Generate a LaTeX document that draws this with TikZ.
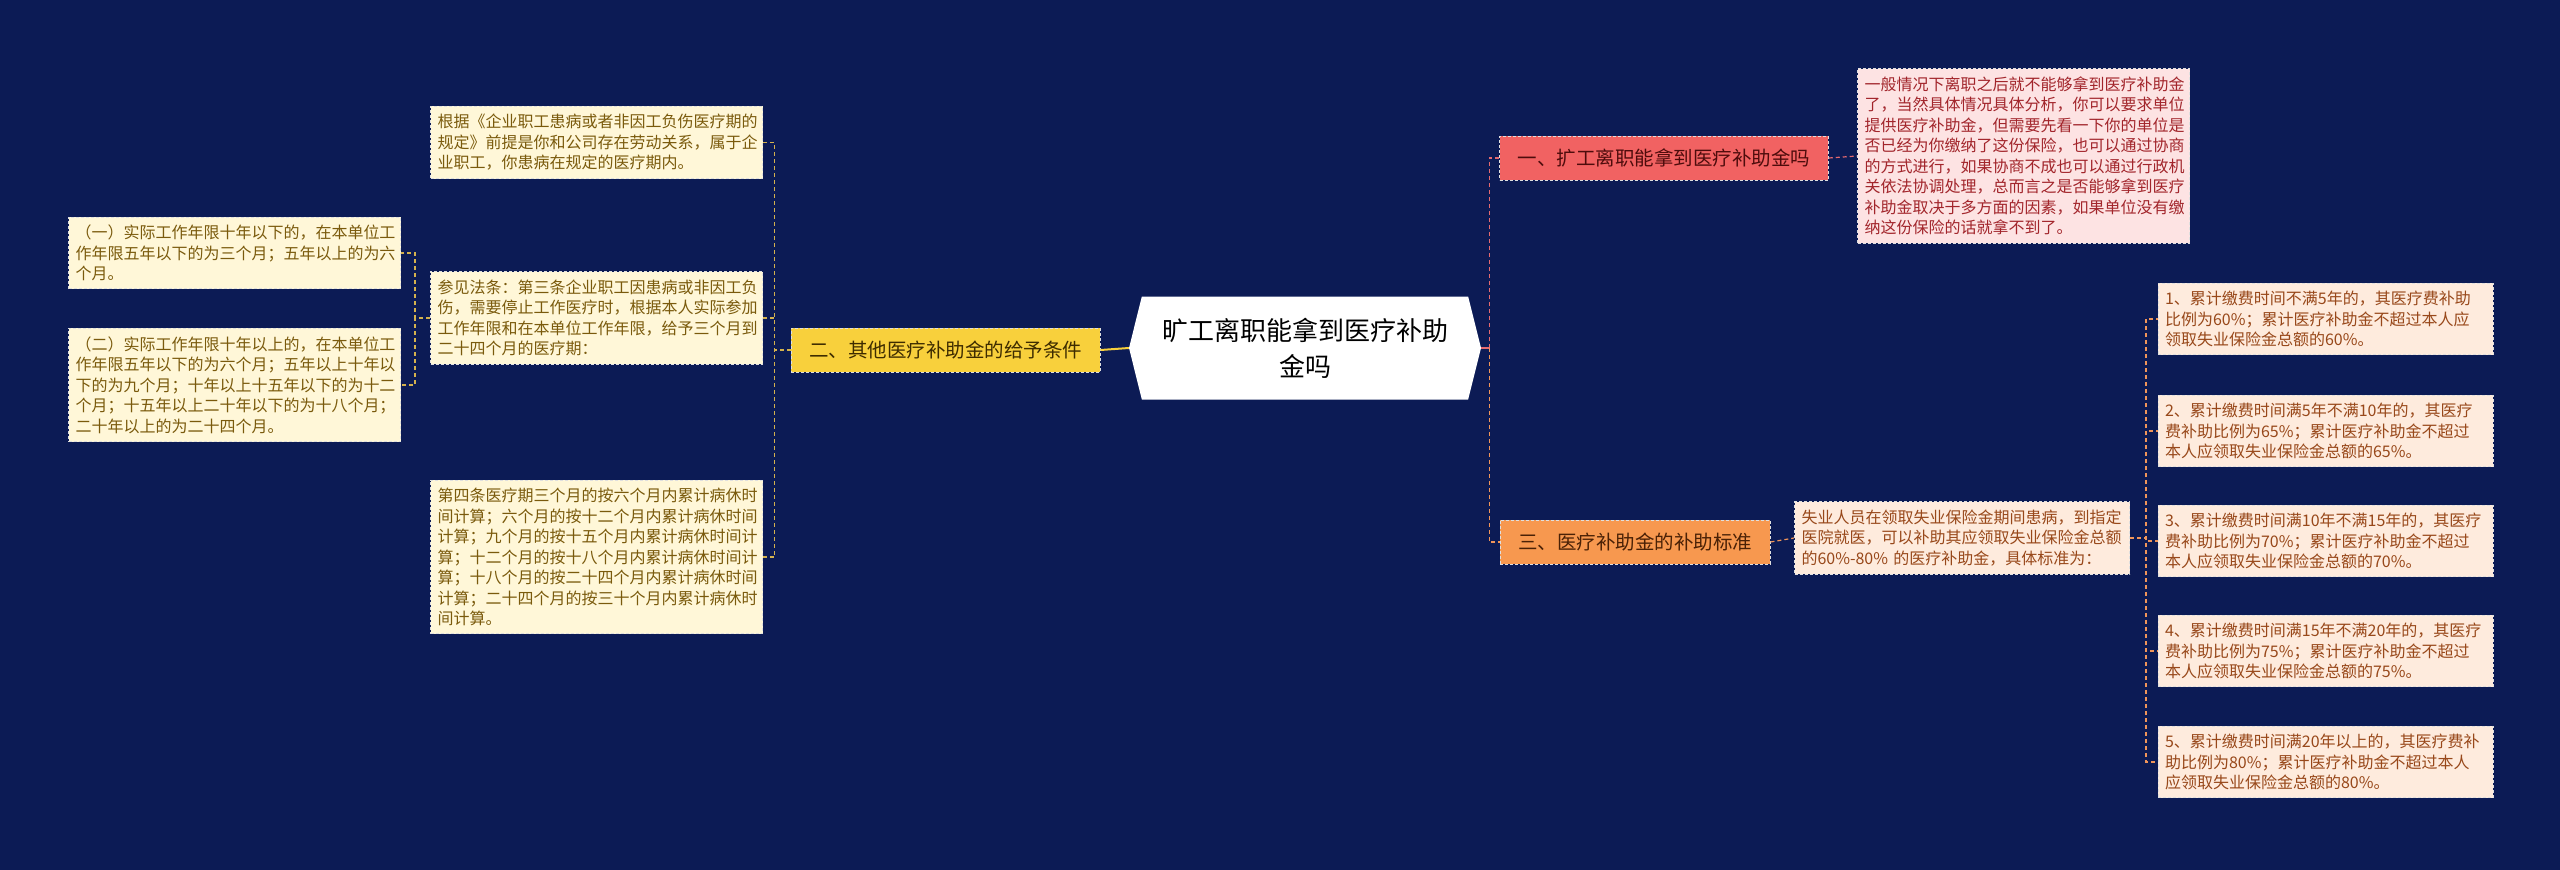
\documentclass[tikz,border=0pt]{standalone}
\usepackage{fontspec}
\setmainfont{Noto Sans CJK SC}
\usetikzlibrary{shapes.symbols}
\definecolor{bg}{HTML}{0C1B55}
\definecolor{creamfill}{HTML}{FFF7D8}
\definecolor{creamtext}{HTML}{7A5A0C}
\definecolor{yelfill}{HTML}{F8D03C}
\definecolor{yeltext}{HTML}{3E2C00}
\definecolor{redfill}{HTML}{F16262}
\definecolor{redtext}{HTML}{4E0C0C}
\definecolor{pinkfill}{HTML}{FDE3E3}
\definecolor{pinktext}{HTML}{A2252B}
\definecolor{orfill}{HTML}{F7984F}
\definecolor{ortext}{HTML}{4A2106}
\definecolor{peachfill}{HTML}{FEEBDD}
\definecolor{peachtext}{HTML}{98481A}
\definecolor{yelline}{HTML}{D4B24E}
\definecolor{redline}{HTML}{E56A70}
\definecolor{orline}{HTML}{F0955A}
\tikzstyle{box}=[draw=white!75!gray, dash pattern=on 3pt off 2pt, line width=1pt]
\tikzstyle{leaf}=[box, align=left, text width=318pt, inner xsep=7pt, inner ysep=8pt, font=\fontsize{16pt}{20.5pt}\selectfont]
\tikzstyle{leafy}=[leaf, fill=creamfill, text=creamtext]
\tikzstyle{leafp}=[leaf, fill=pinkfill, text=pinktext]
\tikzstyle{leafo}=[leaf, fill=peachfill, text=peachtext, text width=321pt]
\tikzstyle{branch}=[box, inner xsep=18pt, minimum height=44pt, font=\fontsize{19.5pt}{24pt}\selectfont]
\tikzstyle{lnk}=[line width=1.2pt, dash pattern=on 4pt off 3pt]

\begin{document}
\begin{tikzpicture}[x=1pt, y=-1pt]
\fill[bg] (0,0) rectangle (2560,870);
\useasboundingbox (0,0) rectangle (2560,870);
% root
\node[signal, signal to=west and east, signal pointer angle=152, fill=white, minimum width=352pt, minimum height=103pt, align=center, font=\fontsize{26pt}{36pt}\selectfont] (root) at (1305, 348) {旷工离职能拿到医疗补助\\金吗};
% left branch
\node[branch, fill=yelfill, text=yeltext] (b2) at (945.5, 350) {二、其他医疗补助金的给予条件};
\node[leafy] (l1) at (596.5, 142.5) {根据《企业职工患病或者非因工负伤医疗期的\\规定》前提是你和公司存在劳动关系，属于企\\业职工，你患病在规定的医疗期内。};
\node[leafy] (l2) at (596.5, 318) {参见法条：第三条企业职工因患病或非因工负\\伤，需要停止工作医疗时，根据本人实际参加\\工作年限和在本单位工作年限，给予三个月到\\二十四个月的医疗期：};
\node[leafy] (l3) at (596.5, 557) {第四条医疗期三个月的按六个月内累计病休时\\间计算；六个月的按十二个月内累计病休时间\\计算；九个月的按十五个月内累计病休时间计\\算；十二个月的按十八个月内累计病休时间计\\算；十八个月的按二十四个月内累计病休时间\\计算；二十四个月的按三十个月内累计病休时\\间计算。};
\node[leafy] (ll1) at (234.5, 253) {（一）实际工作年限十年以下的，在本单位工\\作年限五年以下的为三个月；五年以上的为六\\个月。};
\node[leafy] (ll2) at (234.5, 385) {（二）实际工作年限十年以上的，在本单位工\\作年限五年以下的为六个月；五年以上十年以\\下的为九个月；十年以上十五年以下的为十二\\个月；十五年以上二十年以下的为十八个月；\\二十年以上的为二十四个月。};
% right branches
\node[branch, fill=redfill, text=redtext] (b1) at (1664, 158) {一、扩工离职能拿到医疗补助金吗};
\node[leafp] (p1) at (2023.5, 156) {一般情况下离职之后就不能够拿到医疗补助金\\了，当然具体情况具体分析，你可以要求单位\\提供医疗补助金，但需要先看一下你的单位是\\否已经为你缴纳了这份保险，也可以通过协商\\的方式进行，如果协商不成也可以通过行政机\\关依法协调处理，总而言之是否能够拿到医疗\\补助金取决于多方面的因素，如果单位没有缴\\纳这份保险的话就拿不到了。};
\node[branch, fill=orfill, text=ortext] (b3) at (1635, 542) {三、医疗补助金的补助标准};
\node[leafo] (s1) at (1962, 538) {失业人员在领取失业保险金期间患病，到指定\\医院就医，可以补助其应领取失业保险金总额\\的60\%-80\% 的医疗补助金，具体标准为：};
\node[leafo] (i1) at (2325.5, 319) {1、累计缴费时间不满5年的，其医疗费补助\\比例为60\%；累计医疗补助金不超过本人应\\领取失业保险金总额的60\%。};
\node[leafo] (i2) at (2325.5, 431) {2、累计缴费时间满5年不满10年的，其医疗\\费补助比例为65\%；累计医疗补助金不超过\\本人应领取失业保险金总额的65\%。};
\node[leafo] (i3) at (2325.5, 541) {3、累计缴费时间满10年不满15年的，其医疗\\费补助比例为70\%；累计医疗补助金不超过\\本人应领取失业保险金总额的70\%。};
\node[leafo] (i4) at (2325.5, 651) {4、累计缴费时间满15年不满20年的，其医疗\\费补助比例为75\%；累计医疗补助金不超过\\本人应领取失业保险金总额的75\%。};
\node[leafo] (i5) at (2325.5, 762) {5、累计缴费时间满20年以上的，其医疗费补\\助比例为80\%；累计医疗补助金不超过本人\\应领取失业保险金总额的80\%。};
% links
\draw[line width=2pt, yelfill] (root.west) -- (b2.east);
\draw[lnk, yelline] (b2.west) -- ++(-16,0) |- (l1.east);
\draw[lnk, yelline] (b2.west) -- ++(-16,0) |- (l2.east);
\draw[lnk, yelline] (b2.west) -- ++(-16,0) |- (l3.east);
\draw[lnk, yelline] (l2.west) -- ++(-15,0) |- (ll1.east);
\draw[lnk, yelline] (l2.west) -- ++(-15,0) |- (ll2.east);
\draw[line width=2pt, redline] (root.east) -- ++(8,0);
\draw[lnk, redline] (root.east) ++(8,0) |- (b1.west);
\draw[lnk, orline] (root.east) ++(8,0) |- (b3.west);
\draw[lnk, redline] (b1.east) -- (p1.west);
\draw[lnk, orline] (b3.east) -- (s1.west);
\foreach \i in {i1,i2,i3,i4,i5}
  \draw[lnk, orline] (s1.east) -- ++(16,0) |- (\i.west);
\end{tikzpicture}
\end{document}
